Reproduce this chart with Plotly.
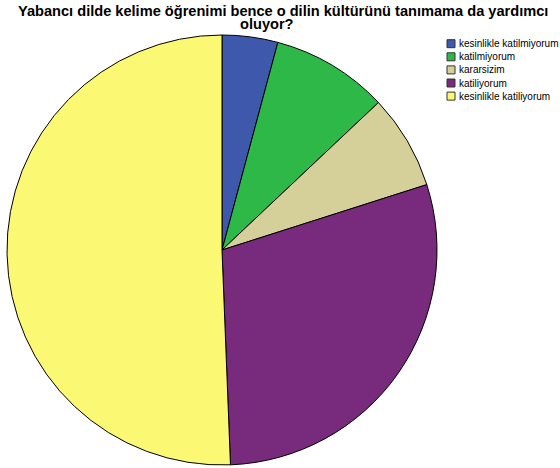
import plotly.graph_objects as go

categories = ["kesinlikle katilmiyorum", "katilmiyorum", "kararsizim", "katiliyorum", "kesinlikle katiliyorum"]
counts = [10, 21, 17, 70, 121]
colors = ["#3E58AC", "#2EB848", "#D5CF9A", "#782A7D", "#FBF873"]
title_line1 = "Yabancı dilde kelime öğrenimi bence o dilin kültürünü tanımama da yardımcı"
title_line2 = "oluyor?"

W, H = 560, 468


def px(x):
    return x / W


def py(y):
    return 1 - y / H


fig = go.Figure()
fig.add_trace(go.Pie(
    labels=categories, values=counts, sort=False, direction="clockwise", rotation=0,
    marker=dict(colors=colors, line=dict(color="#000000", width=1)),
    textinfo="none", hoverinfo="label+value+percent", showlegend=False,
    domain=dict(x=[px(7), px(437)], y=[py(465), py(35)]),
))

shapes = []
annotations = []
row0 = 43.7
step = 13.1
for i, (lab, col) in enumerate(zip(categories, colors)):
    yc = row0 + i * step
    shapes.append(dict(type="rect", xref="paper", yref="paper",
                       x0=px(447), x1=px(455), y0=py(yc + 4), y1=py(yc - 4),
                       fillcolor=col, line=dict(color="#333333", width=1)))
    annotations.append(dict(xref="paper", yref="paper", x=px(457), y=py(yc),
                            xanchor="left", yanchor="middle", text=lab, showarrow=False,
                            font=dict(family="Liberation Sans, Arial", size=10, color="#000000")))

annotations.append(dict(xref="paper", yref="paper", x=px(16), y=py(11),
                        xanchor="left", yanchor="middle", text="<b>" + title_line1 + "</b>", showarrow=False,
                        font=dict(family="Liberation Sans, Arial", size=14.6, color="#000000")))
annotations.append(dict(xref="paper", yref="paper", x=px(266.5), y=py(24),
                        xanchor="center", yanchor="middle", text="<b>" + title_line2 + "</b>", showarrow=False,
                        font=dict(family="Liberation Sans, Arial", size=14.6, color="#000000")))

fig.update_layout(width=W, height=H, margin=dict(l=0, r=0, t=0, b=0),
                  paper_bgcolor="white", plot_bgcolor="white",
                  shapes=shapes, annotations=annotations)
fig.write_html("out.html", config={"displayModeBar": False},
               post_script="document.body.style.margin='0';")
